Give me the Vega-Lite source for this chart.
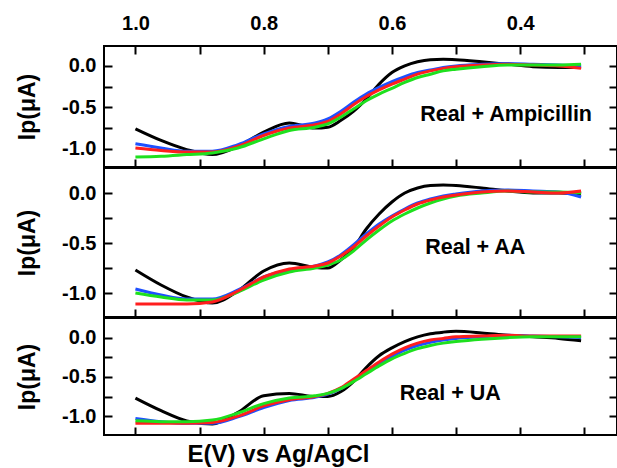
{
  "$schema": "https://vega.github.io/schema/vega-lite/v6.json",
  "background": "white",
  "padding": {"left": 15, "top": 12, "right": 0, "bottom": 0},
  "config": {
    "view": {"stroke": "black", "strokeWidth": 2},
    "axis": {
      "domain": false,
      "grid": false,
      "tickColor": "black",
      "tickWidth": 2,
      "tickSize": -8,
      "labelFont": "Liberation Sans",
      "labelFontWeight": "bold",
      "labelFontSize": 20,
      "labelColor": "black",
      "titleFont": "Liberation Sans",
      "titleFontWeight": "bold",
      "titleColor": "black"
    }
  },
  "datasets": {
    "cv": [
      {"panel":1,"run":"1","E":1.0,"I":-0.76},{"panel":1,"run":"1","E":0.96,"I":-0.9},{"panel":1,"run":"1","E":0.92,"I":-1.01},{"panel":1,"run":"1","E":0.88,"I":-1.07},{"panel":1,"run":"1","E":0.84,"I":-0.97},{"panel":1,"run":"1","E":0.8,"I":-0.8},{"panel":1,"run":"1","E":0.76,"I":-0.69},{"panel":1,"run":"1","E":0.72,"I":-0.75},{"panel":1,"run":"1","E":0.7,"I":-0.74},{"panel":1,"run":"1","E":0.68,"I":-0.66},{"panel":1,"run":"1","E":0.66,"I":-0.55},{"panel":1,"run":"1","E":0.64,"I":-0.4},{"panel":1,"run":"1","E":0.62,"I":-0.22},{"panel":1,"run":"1","E":0.6,"I":-0.08},{"panel":1,"run":"1","E":0.58,"I":0.0},{"panel":1,"run":"1","E":0.56,"I":0.05},{"panel":1,"run":"1","E":0.54,"I":0.075},{"panel":1,"run":"1","E":0.52,"I":0.08},{"panel":1,"run":"1","E":0.5,"I":0.075},{"panel":1,"run":"1","E":0.46,"I":0.05},{"panel":1,"run":"1","E":0.42,"I":0.02},{"panel":1,"run":"1","E":0.38,"I":-0.01},{"panel":1,"run":"1","E":0.34,"I":-0.02},{"panel":1,"run":"1","E":0.305,"I":-0.02},
      {"panel":1,"run":"2","E":1.0,"I":-0.94},{"panel":1,"run":"2","E":0.96,"I":-0.99},{"panel":1,"run":"2","E":0.92,"I":-1.03},{"panel":1,"run":"2","E":0.88,"I":-1.03},{"panel":1,"run":"2","E":0.84,"I":-0.95},{"panel":1,"run":"2","E":0.8,"I":-0.82},{"panel":1,"run":"2","E":0.76,"I":-0.73},{"panel":1,"run":"2","E":0.72,"I":-0.69},{"panel":1,"run":"2","E":0.7,"I":-0.64},{"panel":1,"run":"2","E":0.68,"I":-0.55},{"panel":1,"run":"2","E":0.66,"I":-0.44},{"panel":1,"run":"2","E":0.64,"I":-0.34},{"panel":1,"run":"2","E":0.62,"I":-0.26},{"panel":1,"run":"2","E":0.6,"I":-0.19},{"panel":1,"run":"2","E":0.58,"I":-0.13},{"panel":1,"run":"2","E":0.56,"I":-0.08},{"panel":1,"run":"2","E":0.54,"I":-0.05},{"panel":1,"run":"2","E":0.52,"I":-0.02},{"panel":1,"run":"2","E":0.5,"I":0.0},{"panel":1,"run":"2","E":0.46,"I":0.02},{"panel":1,"run":"2","E":0.42,"I":0.03},{"panel":1,"run":"2","E":0.38,"I":0.02},{"panel":1,"run":"2","E":0.34,"I":0.01},{"panel":1,"run":"2","E":0.305,"I":0.0},
      {"panel":1,"run":"3","E":1.0,"I":-0.99},{"panel":1,"run":"3","E":0.96,"I":-1.02},{"panel":1,"run":"3","E":0.92,"I":-1.04},{"panel":1,"run":"3","E":0.88,"I":-1.04},{"panel":1,"run":"3","E":0.84,"I":-0.97},{"panel":1,"run":"3","E":0.8,"I":-0.84},{"panel":1,"run":"3","E":0.76,"I":-0.75},{"panel":1,"run":"3","E":0.72,"I":-0.71},{"panel":1,"run":"3","E":0.7,"I":-0.67},{"panel":1,"run":"3","E":0.68,"I":-0.58},{"panel":1,"run":"3","E":0.66,"I":-0.47},{"panel":1,"run":"3","E":0.64,"I":-0.37},{"panel":1,"run":"3","E":0.62,"I":-0.29},{"panel":1,"run":"3","E":0.6,"I":-0.22},{"panel":1,"run":"3","E":0.58,"I":-0.16},{"panel":1,"run":"3","E":0.56,"I":-0.1},{"panel":1,"run":"3","E":0.54,"I":-0.06},{"panel":1,"run":"3","E":0.52,"I":-0.03},{"panel":1,"run":"3","E":0.5,"I":-0.01},{"panel":1,"run":"3","E":0.46,"I":0.01},{"panel":1,"run":"3","E":0.42,"I":0.02},{"panel":1,"run":"3","E":0.38,"I":0.01},{"panel":1,"run":"3","E":0.34,"I":0.0},{"panel":1,"run":"3","E":0.305,"I":-0.03},
      {"panel":1,"run":"4","E":1.0,"I":-1.1},{"panel":1,"run":"4","E":0.96,"I":-1.09},{"panel":1,"run":"4","E":0.92,"I":-1.07},{"panel":1,"run":"4","E":0.88,"I":-1.05},{"panel":1,"run":"4","E":0.84,"I":-0.99},{"panel":1,"run":"4","E":0.8,"I":-0.88},{"panel":1,"run":"4","E":0.76,"I":-0.78},{"panel":1,"run":"4","E":0.72,"I":-0.74},{"panel":1,"run":"4","E":0.7,"I":-0.7},{"panel":1,"run":"4","E":0.68,"I":-0.62},{"panel":1,"run":"4","E":0.66,"I":-0.52},{"panel":1,"run":"4","E":0.64,"I":-0.42},{"panel":1,"run":"4","E":0.62,"I":-0.34},{"panel":1,"run":"4","E":0.6,"I":-0.27},{"panel":1,"run":"4","E":0.58,"I":-0.2},{"panel":1,"run":"4","E":0.56,"I":-0.14},{"panel":1,"run":"4","E":0.54,"I":-0.1},{"panel":1,"run":"4","E":0.52,"I":-0.06},{"panel":1,"run":"4","E":0.5,"I":-0.04},{"panel":1,"run":"4","E":0.46,"I":-0.01},{"panel":1,"run":"4","E":0.42,"I":0.01},{"panel":1,"run":"4","E":0.38,"I":0.01},{"panel":1,"run":"4","E":0.34,"I":0.01},{"panel":1,"run":"4","E":0.305,"I":0.02},

      {"panel":2,"run":"1","E":1.0,"I":-0.77},{"panel":2,"run":"1","E":0.96,"I":-0.92},{"panel":2,"run":"1","E":0.92,"I":-1.04},{"panel":2,"run":"1","E":0.88,"I":-1.1},{"panel":2,"run":"1","E":0.84,"I":-0.98},{"panel":2,"run":"1","E":0.8,"I":-0.78},{"panel":2,"run":"1","E":0.76,"I":-0.7},{"panel":2,"run":"1","E":0.72,"I":-0.745},{"panel":2,"run":"1","E":0.7,"I":-0.75},{"panel":2,"run":"1","E":0.68,"I":-0.67},{"panel":2,"run":"1","E":0.66,"I":-0.55},{"panel":2,"run":"1","E":0.64,"I":-0.36},{"panel":2,"run":"1","E":0.62,"I":-0.21},{"panel":2,"run":"1","E":0.6,"I":-0.09},{"panel":2,"run":"1","E":0.58,"I":0.0},{"panel":2,"run":"1","E":0.56,"I":0.05},{"panel":2,"run":"1","E":0.54,"I":0.075},{"panel":2,"run":"1","E":0.52,"I":0.08},{"panel":2,"run":"1","E":0.5,"I":0.075},{"panel":2,"run":"1","E":0.46,"I":0.05},{"panel":2,"run":"1","E":0.42,"I":0.02},{"panel":2,"run":"1","E":0.38,"I":0.0},{"panel":2,"run":"1","E":0.34,"I":0.0},{"panel":2,"run":"1","E":0.305,"I":-0.01},
      {"panel":2,"run":"2","E":1.0,"I":-0.96},{"panel":2,"run":"2","E":0.96,"I":-1.02},{"panel":2,"run":"2","E":0.92,"I":-1.06},{"panel":2,"run":"2","E":0.88,"I":-1.06},{"panel":2,"run":"2","E":0.84,"I":-0.97},{"panel":2,"run":"2","E":0.8,"I":-0.84},{"panel":2,"run":"2","E":0.76,"I":-0.77},{"panel":2,"run":"2","E":0.72,"I":-0.73},{"panel":2,"run":"2","E":0.7,"I":-0.69},{"panel":2,"run":"2","E":0.68,"I":-0.62},{"panel":2,"run":"2","E":0.66,"I":-0.52},{"panel":2,"run":"2","E":0.64,"I":-0.41},{"panel":2,"run":"2","E":0.62,"I":-0.31},{"panel":2,"run":"2","E":0.6,"I":-0.23},{"panel":2,"run":"2","E":0.58,"I":-0.16},{"panel":2,"run":"2","E":0.56,"I":-0.1},{"panel":2,"run":"2","E":0.54,"I":-0.06},{"panel":2,"run":"2","E":0.52,"I":-0.03},{"panel":2,"run":"2","E":0.5,"I":-0.01},{"panel":2,"run":"2","E":0.46,"I":0.02},{"panel":2,"run":"2","E":0.42,"I":0.03},{"panel":2,"run":"2","E":0.38,"I":0.02},{"panel":2,"run":"2","E":0.34,"I":0.01},{"panel":2,"run":"2","E":0.305,"I":-0.04},
      {"panel":2,"run":"4","E":1.0,"I":-1.0},{"panel":2,"run":"4","E":0.96,"I":-1.04},{"panel":2,"run":"4","E":0.92,"I":-1.07},{"panel":2,"run":"4","E":0.88,"I":-1.07},{"panel":2,"run":"4","E":0.84,"I":-0.99},{"panel":2,"run":"4","E":0.8,"I":-0.87},{"panel":2,"run":"4","E":0.76,"I":-0.79},{"panel":2,"run":"4","E":0.72,"I":-0.75},{"panel":2,"run":"4","E":0.7,"I":-0.72},{"panel":2,"run":"4","E":0.68,"I":-0.67},{"panel":2,"run":"4","E":0.66,"I":-0.58},{"panel":2,"run":"4","E":0.64,"I":-0.47},{"panel":2,"run":"4","E":0.62,"I":-0.37},{"panel":2,"run":"4","E":0.6,"I":-0.28},{"panel":2,"run":"4","E":0.58,"I":-0.21},{"panel":2,"run":"4","E":0.56,"I":-0.15},{"panel":2,"run":"4","E":0.54,"I":-0.1},{"panel":2,"run":"4","E":0.52,"I":-0.06},{"panel":2,"run":"4","E":0.5,"I":-0.03},{"panel":2,"run":"4","E":0.46,"I":0.0},{"panel":2,"run":"4","E":0.42,"I":0.02},{"panel":2,"run":"4","E":0.38,"I":0.01},{"panel":2,"run":"4","E":0.34,"I":0.01},{"panel":2,"run":"4","E":0.305,"I":0.0},
      {"panel":2,"run":"3","E":1.0,"I":-1.11},{"panel":2,"run":"3","E":0.96,"I":-1.11},{"panel":2,"run":"3","E":0.92,"I":-1.11},{"panel":2,"run":"3","E":0.88,"I":-1.09},{"panel":2,"run":"3","E":0.84,"I":-0.98},{"panel":2,"run":"3","E":0.8,"I":-0.84},{"panel":2,"run":"3","E":0.76,"I":-0.76},{"panel":2,"run":"3","E":0.72,"I":-0.73},{"panel":2,"run":"3","E":0.7,"I":-0.7},{"panel":2,"run":"3","E":0.68,"I":-0.63},{"panel":2,"run":"3","E":0.66,"I":-0.54},{"panel":2,"run":"3","E":0.64,"I":-0.43},{"panel":2,"run":"3","E":0.62,"I":-0.33},{"panel":2,"run":"3","E":0.6,"I":-0.24},{"panel":2,"run":"3","E":0.58,"I":-0.17},{"panel":2,"run":"3","E":0.56,"I":-0.11},{"panel":2,"run":"3","E":0.54,"I":-0.07},{"panel":2,"run":"3","E":0.52,"I":-0.04},{"panel":2,"run":"3","E":0.5,"I":-0.02},{"panel":2,"run":"3","E":0.46,"I":0.01},{"panel":2,"run":"3","E":0.42,"I":0.02},{"panel":2,"run":"3","E":0.38,"I":0.01},{"panel":2,"run":"3","E":0.34,"I":0.0},{"panel":2,"run":"3","E":0.305,"I":0.02},

      {"panel":3,"run":"1","E":1.0,"I":-0.77},{"panel":3,"run":"1","E":0.96,"I":-0.93},{"panel":3,"run":"1","E":0.92,"I":-1.06},{"panel":3,"run":"1","E":0.88,"I":-1.1},{"panel":3,"run":"1","E":0.84,"I":-0.95},{"panel":3,"run":"1","E":0.8,"I":-0.74},{"panel":3,"run":"1","E":0.76,"I":-0.71},{"panel":3,"run":"1","E":0.72,"I":-0.75},{"panel":3,"run":"1","E":0.7,"I":-0.75},{"panel":3,"run":"1","E":0.68,"I":-0.69},{"panel":3,"run":"1","E":0.66,"I":-0.56},{"panel":3,"run":"1","E":0.64,"I":-0.38},{"panel":3,"run":"1","E":0.62,"I":-0.23},{"panel":3,"run":"1","E":0.6,"I":-0.13},{"panel":3,"run":"1","E":0.58,"I":-0.05},{"panel":3,"run":"1","E":0.56,"I":0.01},{"panel":3,"run":"1","E":0.54,"I":0.05},{"panel":3,"run":"1","E":0.52,"I":0.07},{"panel":3,"run":"1","E":0.5,"I":0.08},{"panel":3,"run":"1","E":0.46,"I":0.06},{"panel":3,"run":"1","E":0.42,"I":0.03},{"panel":3,"run":"1","E":0.38,"I":0.01},{"panel":3,"run":"1","E":0.34,"I":-0.01},{"panel":3,"run":"1","E":0.305,"I":-0.04},
      {"panel":3,"run":"2","E":1.0,"I":-1.03},{"panel":3,"run":"2","E":0.96,"I":-1.07},{"panel":3,"run":"2","E":0.92,"I":-1.09},{"panel":3,"run":"2","E":0.88,"I":-1.09},{"panel":3,"run":"2","E":0.84,"I":-1.01},{"panel":3,"run":"2","E":0.8,"I":-0.89},{"panel":3,"run":"2","E":0.76,"I":-0.8},{"panel":3,"run":"2","E":0.72,"I":-0.76},{"panel":3,"run":"2","E":0.7,"I":-0.72},{"panel":3,"run":"2","E":0.68,"I":-0.65},{"panel":3,"run":"2","E":0.66,"I":-0.55},{"panel":3,"run":"2","E":0.64,"I":-0.44},{"panel":3,"run":"2","E":0.62,"I":-0.33},{"panel":3,"run":"2","E":0.6,"I":-0.24},{"panel":3,"run":"2","E":0.58,"I":-0.16},{"panel":3,"run":"2","E":0.56,"I":-0.1},{"panel":3,"run":"2","E":0.54,"I":-0.06},{"panel":3,"run":"2","E":0.52,"I":-0.03},{"panel":3,"run":"2","E":0.5,"I":-0.01},{"panel":3,"run":"2","E":0.46,"I":0.01},{"panel":3,"run":"2","E":0.42,"I":0.03},{"panel":3,"run":"2","E":0.38,"I":0.02},{"panel":3,"run":"2","E":0.34,"I":0.01},{"panel":3,"run":"2","E":0.305,"I":0.0},
      {"panel":3,"run":"3","E":1.0,"I":-1.09},{"panel":3,"run":"3","E":0.96,"I":-1.09},{"panel":3,"run":"3","E":0.92,"I":-1.09},{"panel":3,"run":"3","E":0.88,"I":-1.08},{"panel":3,"run":"3","E":0.84,"I":-1.0},{"panel":3,"run":"3","E":0.8,"I":-0.87},{"panel":3,"run":"3","E":0.76,"I":-0.79},{"panel":3,"run":"3","E":0.72,"I":-0.75},{"panel":3,"run":"3","E":0.7,"I":-0.71},{"panel":3,"run":"3","E":0.68,"I":-0.64},{"panel":3,"run":"3","E":0.66,"I":-0.53},{"panel":3,"run":"3","E":0.64,"I":-0.42},{"panel":3,"run":"3","E":0.62,"I":-0.31},{"panel":3,"run":"3","E":0.6,"I":-0.21},{"panel":3,"run":"3","E":0.58,"I":-0.13},{"panel":3,"run":"3","E":0.56,"I":-0.07},{"panel":3,"run":"3","E":0.54,"I":-0.03},{"panel":3,"run":"3","E":0.52,"I":-0.01},{"panel":3,"run":"3","E":0.5,"I":0.01},{"panel":3,"run":"3","E":0.46,"I":0.02},{"panel":3,"run":"3","E":0.42,"I":0.03},{"panel":3,"run":"3","E":0.38,"I":0.02},{"panel":3,"run":"3","E":0.34,"I":0.02},{"panel":3,"run":"3","E":0.305,"I":0.02},
      {"panel":3,"run":"4","E":1.0,"I":-1.06},{"panel":3,"run":"4","E":0.96,"I":-1.07},{"panel":3,"run":"4","E":0.92,"I":-1.07},{"panel":3,"run":"4","E":0.88,"I":-1.05},{"panel":3,"run":"4","E":0.84,"I":-0.96},{"panel":3,"run":"4","E":0.8,"I":-0.84},{"panel":3,"run":"4","E":0.76,"I":-0.77},{"panel":3,"run":"4","E":0.72,"I":-0.74},{"panel":3,"run":"4","E":0.7,"I":-0.71},{"panel":3,"run":"4","E":0.68,"I":-0.65},{"panel":3,"run":"4","E":0.66,"I":-0.56},{"panel":3,"run":"4","E":0.64,"I":-0.46},{"panel":3,"run":"4","E":0.62,"I":-0.36},{"panel":3,"run":"4","E":0.6,"I":-0.27},{"panel":3,"run":"4","E":0.58,"I":-0.2},{"panel":3,"run":"4","E":0.56,"I":-0.14},{"panel":3,"run":"4","E":0.54,"I":-0.1},{"panel":3,"run":"4","E":0.52,"I":-0.07},{"panel":3,"run":"4","E":0.5,"I":-0.05},{"panel":3,"run":"4","E":0.46,"I":-0.02},{"panel":3,"run":"4","E":0.42,"I":0.0},{"panel":3,"run":"4","E":0.38,"I":0.01},{"panel":3,"run":"4","E":0.34,"I":0.01},{"panel":3,"run":"4","E":0.305,"I":0.01}
    ],
    "labels": [
      {"panel":1,"E":0.422,"I":-0.663,"label":"Real + Ampicillin"},
      {"panel":2,"E":0.47,"I":-0.613,"label":"Real + AA"},
      {"panel":3,"E":0.509,"I":-0.793,"label":"Real + UA"}
    ]
  },
  "spacing": 1,
  "bounds": "flush",
  "vconcat": [
    {
      "width": 513,
      "height": 121,
      "layer": [
        {
          "data": {"name": "cv"},
          "transform": [{"filter": "datum.panel == 1"}],
          "mark": {"type": "line", "strokeWidth": 3, "interpolate": "monotone"},
          "encoding": {
            "x": {"field": "E", "type": "quantitative",
                  "scale": {"domain": [0.249, 1.049], "reverse": true, "nice": false, "zero": false},
                  "axis": {"orient": "bottom", "values": [1, 0.9, 0.8, 0.7, 0.6, 0.5, 0.4, 0.3], "labels": false, "title": null}},
            "y": {"field": "I", "type": "quantitative",
                  "scale": {"domain": [-1.22, 0.24], "nice": false, "zero": false},
                  "axis": {"orient": "left", "values": [-1, -0.75, -0.5, -0.25, 0], "labelPadding": 16,
                           "labelExpr": "datum.value == 0 ? '0.0' : datum.value == -0.5 ? '-0.5' : datum.value == -1 ? '-1.0' : ''",
                           "title": "Ip(μA)", "titleFontSize": 23, "titleX": -77, "titleBaseline": "middle"}},
            "color": {"field": "run", "type": "nominal",
                      "scale": {"domain": ["1", "2", "3", "4"], "range": ["#000000", "#1e50ff", "#ff1e1e", "#1ee01e"]},
                      "legend": null}
          }
        },
        {
          "data": {"name": "labels"},
          "transform": [{"filter": "datum.panel == 1"}],
          "mark": {"type": "text", "font": "Liberation Sans", "fontWeight": "bold", "fontSize": 21.5, "align": "center", "baseline": "alphabetic", "color": "black"},
          "encoding": {
            "x": {"field": "E", "type": "quantitative",
                  "axis": {"orient": "top", "values": [1, 0.9, 0.8, 0.7, 0.6, 0.5, 0.4, 0.3], "labelPadding": 21,
                           "labelExpr": "datum.value == 1 ? '1.0' : datum.value == 0.8 ? '0.8' : datum.value == 0.6 ? '0.6' : datum.value == 0.4 ? '0.4' : ''",
                           "title": null}},
            "y": {"field": "I", "type": "quantitative",
                  "axis": {"orient": "right", "values": [-1, -0.75, -0.5, -0.25, 0], "labels": false, "title": null}},
            "text": {"field": "label"}
          }
        }
      ],
      "resolve": {"axis": {"x": "independent", "y": "independent"}}
    },
    {
      "width": 513,
      "height": 149,
      "layer": [
        {
          "data": {"name": "cv"},
          "transform": [{"filter": "datum.panel == 2"}],
          "mark": {"type": "line", "strokeWidth": 3, "interpolate": "monotone"},
          "encoding": {
            "x": {"field": "E", "type": "quantitative",
                  "scale": {"domain": [0.249, 1.049], "reverse": true, "nice": false, "zero": false},
                  "axis": {"orient": "bottom", "values": [1, 0.9, 0.8, 0.7, 0.6, 0.5, 0.4, 0.3], "labels": false, "title": null}},
            "y": {"field": "I", "type": "quantitative",
                  "scale": {"domain": [-1.24, 0.25], "nice": false, "zero": false},
                  "axis": {"orient": "left", "values": [-1, -0.75, -0.5, -0.25, 0], "labelPadding": 16,
                           "labelExpr": "datum.value == 0 ? '0.0' : datum.value == -0.5 ? '-0.5' : datum.value == -1 ? '-1.0' : ''",
                           "title": "Ip(μA)", "titleFontSize": 23, "titleX": -77, "titleBaseline": "middle"}},
            "color": {"field": "run", "type": "nominal",
                      "scale": {"domain": ["1", "2", "3", "4"], "range": ["#000000", "#1e50ff", "#ff1e1e", "#1ee01e"]},
                      "legend": null}
          }
        },
        {
          "data": {"name": "labels"},
          "transform": [{"filter": "datum.panel == 2"}],
          "mark": {"type": "text", "font": "Liberation Sans", "fontWeight": "bold", "fontSize": 21.5, "align": "center", "baseline": "alphabetic", "color": "black"},
          "encoding": {
            "x": {"field": "E", "type": "quantitative", "axis": null},
            "y": {"field": "I", "type": "quantitative",
                  "axis": {"orient": "right", "values": [-1, -0.75, -0.5, -0.25, 0], "labels": false, "title": null}},
            "text": {"field": "label"}
          }
        }
      ],
      "resolve": {"axis": {"x": "independent", "y": "independent"}}
    },
    {
      "width": 513,
      "height": 117,
      "layer": [
        {
          "data": {"name": "cv"},
          "transform": [{"filter": "datum.panel == 3"}],
          "mark": {"type": "line", "strokeWidth": 3, "interpolate": "monotone"},
          "encoding": {
            "x": {"field": "E", "type": "quantitative",
                  "scale": {"domain": [0.249, 1.049], "reverse": true, "nice": false, "zero": false},
                  "axis": {"orient": "bottom", "values": [1, 0.9, 0.8, 0.7, 0.6, 0.5, 0.4, 0.3], "labels": false,
                           "title": "E(V) vs Ag/AgCl", "titleFontSize": 24, "titleX": 174, "titleY": 26,
                           "titleAlign": "center", "titleBaseline": "alphabetic"}},
            "y": {"field": "I", "type": "quantitative",
                  "scale": {"domain": [-1.24, 0.25], "nice": false, "zero": false},
                  "axis": {"orient": "left", "values": [-1, -0.75, -0.5, -0.25, 0], "labelPadding": 16,
                           "labelExpr": "datum.value == 0 ? '0.0' : datum.value == -0.5 ? '-0.5' : datum.value == -1 ? '-1.0' : ''",
                           "title": "Ip(μA)", "titleFontSize": 23, "titleX": -77, "titleBaseline": "middle"}},
            "color": {"field": "run", "type": "nominal",
                      "scale": {"domain": ["1", "2", "3", "4"], "range": ["#000000", "#1e50ff", "#ff1e1e", "#1ee01e"]},
                      "legend": null}
          }
        },
        {
          "data": {"name": "labels"},
          "transform": [{"filter": "datum.panel == 3"}],
          "mark": {"type": "text", "font": "Liberation Sans", "fontWeight": "bold", "fontSize": 21.5, "align": "center", "baseline": "alphabetic", "color": "black"},
          "encoding": {
            "x": {"field": "E", "type": "quantitative", "axis": null},
            "y": {"field": "I", "type": "quantitative",
                  "axis": {"orient": "right", "values": [-1, -0.75, -0.5, -0.25, 0], "labels": false, "title": null}},
            "text": {"field": "label"}
          }
        }
      ],
      "resolve": {"axis": {"x": "independent", "y": "independent"}}
    }
  ]
}
